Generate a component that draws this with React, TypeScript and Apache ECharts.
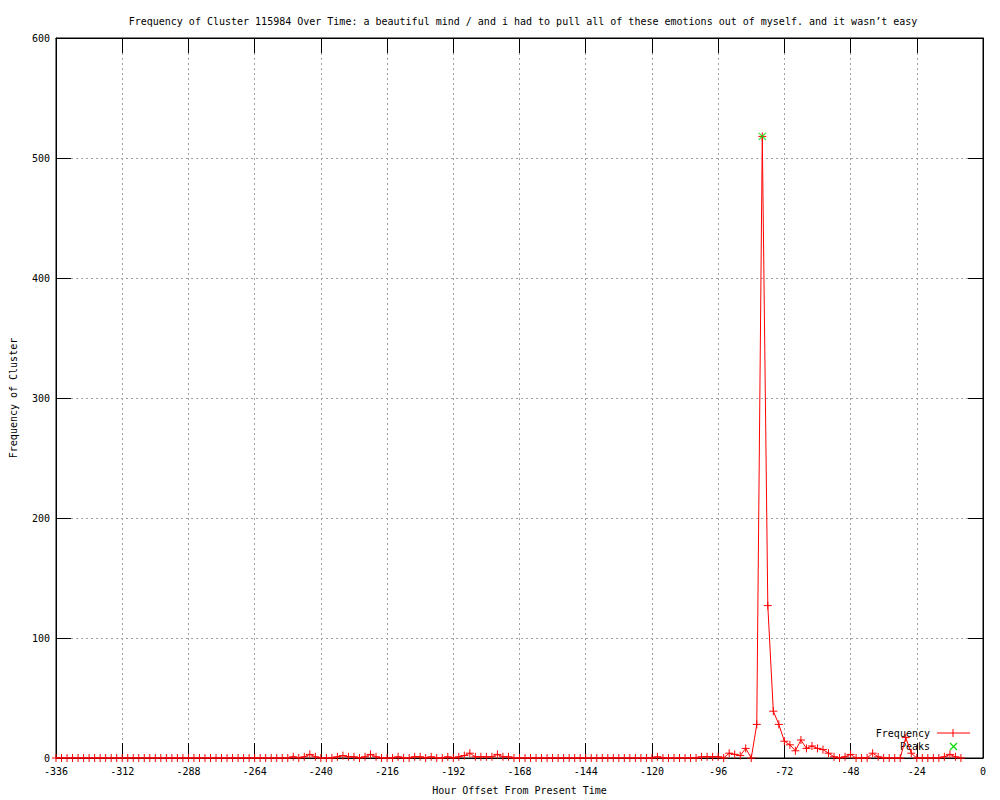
import React, { useEffect, useRef } from "react";
import * as echarts from "echarts";

const TITLE =
  "Frequency of Cluster 115984 Over Time: a beautiful mind / and i had to pull all of these emotions out of myself. and it wasn’t easy";
const X_LABEL = "Hour Offset From Present Time";
const Y_LABEL = "Frequency of Cluster";

const START_HOUR = -336;
const STEP_HOURS = 2;

// one value every 2 hours, starting at -336, ending at -8
const frequency: number[] = [
  // -336 .. -314
  0, 0, 0, 0, 0, 0, 0, 0, 0, 0, 0, 0,
  // -312 .. -290
  0, 0, 0, 0, 0, 0, 0, 0, 0, 0, 0, 0,
  // -288 .. -266
  0, 0, 0, 0, 0, 0, 0, 0, 0, 0, 0, 0,
  // -264 .. -242
  0, 0, 0, 0, 0, 0, 0, 1, 0, 1, 3, 1,
  // -240 .. -218
  0, 0, 0, 1, 2, 1, 1, 0, 1, 3, 1, 0,
  // -216 .. -194
  0, 0, 1, 0, 0, 1, 1, 0, 1, 0, 0, 1,
  // -192 .. -170
  0, 1, 2, 4, 1, 1, 1, 1, 3, 1, 1, 0,
  // -168 .. -146
  0, 0, 0, 0, 0, 0, 0, 0, 0, 0, 0, 0,
  // -144 .. -122
  0, 0, 0, 0, 0, 0, 0, 0, 0, 0, 0, 0,
  // -120 .. -98
  0, 1, 0, 0, 0, 0, 0, 0, 0, 1, 1, 1,
  // -96 .. -74
  1, 0, 4, 3, 2, 8, 0, 28, 518, 127, 39, 28,
  // -72 .. -50
  14, 11, 6, 15, 8, 10, 8, 7, 4, 1, 0, 1,
  // -48 .. -26
  3, 0, 0, 0, 4, 1, 0, 0, 0, 0, 17, 4,
  // -24 .. -8
  0, 0, 0, 0, 0, 1, 3, 1, 0,
];

const peakHours: number[] = [-80];
const peakValues: number[] = [518];

const X_MIN = -336;
const X_MAX = 0;
const X_INTERVAL = 24;
const Y_MIN = 0;
const Y_MAX = 600;
const Y_INTERVAL = 100;

const FONT = "DejaVu Sans Mono";
const RED = "#ff0000";
const GREEN = "#00dd00";

export default function App() {
  const ref = useRef<HTMLDivElement>(null);

  useEffect(() => {
    document.body.style.margin = "0";
    if (!ref.current) return;
    const chart = echarts.init(ref.current, undefined, { renderer: "svg" });

    const freqData = frequency.map((v, i) => [START_HOUR + i * STEP_HOURS, v]);
    const peakData = peakHours.map((h, i) => [h, peakValues[i]]);

    const plusSymbol = "path://M0,4 L8,4 M4,0 L4,8";
    const crossSymbol = "path://M0,0 L8,8 M8,0 L0,8";

    const gridLine = {
      show: true,
      lineStyle: { color: "#a0a0a0", width: 1, type: [2, 3] as any },
    };
    const tick = { show: true, inside: true, length: 15, lineStyle: { color: "#000", width: 1 } };
    const axisLine = { show: true, onZero: false, lineStyle: { color: "#000", width: 1 } };
    const labelStyle = { fontFamily: FONT, fontSize: 10, color: "#000" };

    chart.setOption({
      animation: false,
      backgroundColor: "#fff",
      title: {
        text: TITLE,
        left: 518,
        textAlign: "center",
        top: 11,
        textStyle: { fontFamily: FONT, fontSize: 10, fontWeight: "normal", color: "#000" },
      },
      grid: {
        left: 55,
        right: 17,
        top: 38,
        bottom: 40,
        show: true,
        borderColor: "#000",
        borderWidth: 1,
      },
      xAxis: [
        {
          type: "value",
          min: X_MIN,
          max: X_MAX,
          interval: X_INTERVAL,
          position: "bottom",
          axisLine,
          axisTick: tick,
          splitLine: gridLine,
          axisLabel: { ...labelStyle, margin: 8 },
          name: X_LABEL,
          nameLocation: "middle",
          nameGap: 27,
          nameTextStyle: labelStyle,
        },
        {
          type: "value",
          min: X_MIN,
          max: X_MAX,
          interval: X_INTERVAL,
          position: "top",
          axisLine,
          axisTick: tick,
          splitLine: { show: false },
          axisLabel: { show: false },
        },
      ],
      yAxis: [
        {
          type: "value",
          min: Y_MIN,
          max: Y_MAX,
          interval: Y_INTERVAL,
          position: "left",
          axisLine,
          axisTick: tick,
          splitLine: gridLine,
          axisLabel: { ...labelStyle, margin: 6 },
          name: Y_LABEL,
          nameLocation: "middle",
          nameGap: 38,
          nameTextStyle: labelStyle,
        },
        {
          type: "value",
          min: Y_MIN,
          max: Y_MAX,
          interval: Y_INTERVAL,
          position: "right",
          axisLine,
          axisTick: tick,
          splitLine: { show: false },
          axisLabel: { show: false },
        },
      ],
      series: [
        {
          name: "Frequency",
          type: "line",
          xAxisIndex: 0,
          yAxisIndex: 0,
          data: freqData,
          showSymbol: true,
          symbol: plusSymbol,
          symbolSize: 8,
          lineStyle: { color: RED, width: 1 },
          itemStyle: { color: RED, borderColor: RED, borderWidth: 1 },
          z: 3,
        },
        {
          name: "Peaks",
          type: "scatter",
          xAxisIndex: 0,
          yAxisIndex: 0,
          data: peakData,
          symbol: crossSymbol,
          symbolSize: 7,
          itemStyle: { color: GREEN, borderColor: GREEN, borderWidth: 1.3 },
          z: 4,
        },
      ],
      graphic: [
        {
          type: "text",
          x: 930,
          y: 733,
          style: {
            text: "Frequency",
            fontFamily: FONT,
            fontSize: 10,
            fill: "#000",
            align: "right",
            verticalAlign: "middle",
          },
        },
        {
          type: "line",
          shape: { x1: 937, y1: 733, x2: 970, y2: 733 },
          style: { stroke: RED, lineWidth: 1 },
        },
        {
          type: "line",
          shape: { x1: 953, y1: 729, x2: 953, y2: 737 },
          style: { stroke: RED, lineWidth: 1 },
        },
        {
          type: "text",
          x: 930,
          y: 746,
          style: {
            text: "Peaks",
            fontFamily: FONT,
            fontSize: 10,
            fill: "#000",
            align: "right",
            verticalAlign: "middle",
          },
        },
        {
          type: "polyline",
          shape: { points: [[950, 743], [957, 750]] },
          style: { stroke: GREEN, lineWidth: 1.3, fill: "none" },
        },
        {
          type: "polyline",
          shape: { points: [[957, 743], [950, 750]] },
          style: { stroke: GREEN, lineWidth: 1.3, fill: "none" },
        },
      ],
    });

    return () => chart.dispose();
  }, []);

  return <div ref={ref} style={{ width: 1000, height: 800 }} />;
}
